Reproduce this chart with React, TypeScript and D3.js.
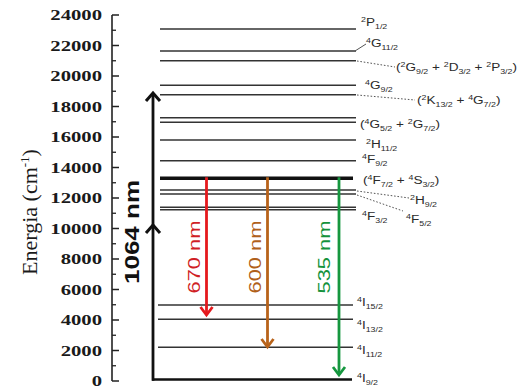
import React from "react";
import * as d3 from "d3";

// Energy levels (cm^-1) and their term labels
const levelNames = [
  "4I9/2", "4I11/2", "4I13/2", "4I15/2",
  "4F3/2a", "4F3/2", "4F5/2", "2H9/2", "4F7/2+4S3/2", "4F9/2", "2H11/2",
  "4G5/2+2G7/2a", "4G5/2+2G7/2", "2K13/2+4G7/2", "4G9/2",
  "2G9/2+2D3/2+2P3/2", "4G11/2", "2P1/2",
];
const levelEnergies = [
  0, 2210, 4046, 4984,
  11226, 11390, 12262, 12525, 13292, 14446, 15803,
  16964, 17266, 18774, 19390,
  21003, 21639, 23082,
];

// Term labels written as "^n" superscript, "_a/b" subscript
const labelTexts = [
  "^4I_9/2", "^4I_11/2", "^4I_13/2", "^4I_15/2",
  "^4F_3/2", "^4F_5/2", "^2H_9/2", "(^4F_7/2 + ^4S_3/2)", "^4F_9/2", "^2H_11/2",
  "(^4G_5/2 + ^2G_7/2)", "(^2K_13/2 + ^4G_7/2)", "^4G_9/2",
  "(^2G_9/2 + ^2D_3/2 + ^2P_3/2)", "^4G_11/2", "^2P_1/2",
];

// Pump (1064 nm) arrow heads and emission transitions
const pumpLabel = "1064 nm";
const pumpTips = [10230, 18880];
const emissionLabels = ["670 nm", "600 nm", "535 nm"];
const emissionFrom = [13292, 13292, 13292];
const emissionTo = [4328, 2230, 393];

const yTicks = d3.range(0, 24001, 2000);
const yMinorTicks = d3.range(1000, 24000, 2000);

// Layout for the right-hand labels: x, baseline y and optional leader line
const labelLayout: Record<string, { x: number; y: number; leader?: [number, number, number, number, string] }> = {
  "^4I_9/2": { x: 357, y: 382 },
  "^4I_11/2": { x: 357, y: 354 },
  "^4I_13/2": { x: 357, y: 329 },
  "^4I_15/2": { x: 357, y: 306 },
  "^4F_3/2": { x: 362, y: 220 },
  "^4F_5/2": { x: 406, y: 223, leader: [357, 195, 403, 211, "dot"] },
  "^2H_9/2": { x: 410, y: 204, leader: [357, 191, 409, 198, "dot"] },
  "(^4F_7/2 + ^4S_3/2)": { x: 363, y: 184 },
  "^4F_9/2": { x: 362, y: 163 },
  "^2H_11/2": { x: 366, y: 148 },
  "(^4G_5/2 + ^2G_7/2)": { x: 360, y: 128 },
  "(^2K_13/2 + ^4G_7/2)": { x: 417, y: 104, leader: [357, 95, 415, 100, "dot"] },
  "^4G_9/2": { x: 365, y: 89 },
  "(^2G_9/2 + ^2D_3/2 + ^2P_3/2)": { x: 396, y: 71, leader: [357, 61, 395, 67, "dot"] },
  "^4G_11/2": { x: 366, y: 47, leader: [355, 51, 366, 44, "solid"] },
  "^2P_1/2": { x: 361, y: 26 },
};

const emissionColors = ["#e5191d", "#b8631a", "#16973f"];
const emissionTextColors = ["#d01f26", "#b0601a", "#14923c"];
const emissionX = [206.5, 267.5, 339];
const emissionTextX = [200, 261, 330];

const y = d3.scaleLinear().domain([0, 24000]).range([381, 15]);

function Term({ text, x, yb }: { text: string; x: number; yb: number }) {
  const parts = text.split(/(\^\d|_\d+\/\d+)/).filter((p) => p.length > 0);
  const spans: React.ReactNode[] = [];
  let shift = 0;
  parts.forEach((p, i) => {
    if (p.startsWith("^")) {
      spans.push(
        <tspan key={i} dy={-4.5 - shift} fontSize={7.5}>{p.slice(1)}</tspan>
      );
      shift = -4.5;
    } else if (p.startsWith("_")) {
      spans.push(
        <tspan key={i} dy={3 - shift} fontSize={7.5}>{p.slice(1)}</tspan>
      );
      shift = 3;
    } else {
      spans.push(
        <tspan key={i} dy={-shift} fontSize={11.5}>{p}</tspan>
      );
      shift = 0;
    }
  });
  return (
    <text
      transform={`translate(${x},${yb}) scale(1.18,1)`}
      fontFamily="Liberation Sans, Arial, sans-serif"
      fill="#2a2a2a"
    >
      {spans}
    </text>
  );
}

function ArrowHead({ x, tip, dir, color, w, h, sw }: { x: number; tip: number; dir: 1 | -1; color: string; w: number; h: number; sw: number }) {
  // dir = -1 points up, 1 points down
  const back = tip - dir * h;
  return (
    <path
      d={`M${x - w},${back} L${x},${tip} L${x + w},${back}`}
      fill="none"
      stroke={color}
      strokeWidth={sw}
      strokeLinejoin="miter"
    />
  );
}

export default function App() {
  const axisX = 112;
  return (
    <svg
      width={518}
      height={390}
      style={{ position: "absolute", left: 0, top: 0, background: "#fff" }}
    >
      {/* y axis */}
      <line x1={axisX} x2={axisX} y1={y(24000)} y2={y(0)} stroke="#222" strokeWidth={1.6} />
      {yTicks.map((t) => (
        <g key={t}>
          <line x1={axisX} x2={axisX + 7} y1={y(t)} y2={y(t)} stroke="#222" strokeWidth={1.5} />
          <text
            transform={`translate(102,${y(t) + 5}) scale(1.38,1)`}
            textAnchor="end"
            fontFamily="Liberation Serif, Times New Roman, serif"
            fontWeight="bold"
            fontSize={15}
            fill="#1a1a1a"
          >
            {t}
          </text>
        </g>
      ))}
      {yMinorTicks.map((t) => (
        <line key={t} x1={axisX} x2={axisX + 4} y1={y(t)} y2={y(t)} stroke="#222" strokeWidth={1.3} />
      ))}

      {/* axis title */}
      <text
        transform={`translate(37,212) rotate(-90)`}
        textAnchor="middle"
        fontFamily="Liberation Serif, Times New Roman, serif"
        fontSize={22}
        fill="#1a1a1a"
      >
        Energia (cm<tspan dy={-8} fontSize={13}>-1</tspan><tspan dy={8}>)</tspan>
      </text>

      {/* energy levels */}
      {levelEnergies.map((e, i) => {
        const name = levelNames[i];
        const thick = name === "4F7/2+4S3/2";
        const ground = e === 0;
        const x1 = ground ? 152 : e < 6000 ? 158 : 160;
        const x2 = ground ? 352 : e < 6000 ? 353 : thick ? 353 : 356;
        return (
          <line
            key={name}
            x1={x1}
            x2={x2}
            y1={ground ? y(e) - 1.5 : y(e)}
            y2={ground ? y(e) - 1.5 : y(e)}
            stroke={thick || ground ? "#111" : "#333"}
            strokeWidth={thick ? 3.5 : ground ? 2.6 : 1.5}
          />
        );
      })}

      {/* pump arrow */}
      <line x1={153} x2={153} y1={y(0) - 0.3} y2={y(pumpTips[1]) + 1} stroke="#111" strokeWidth={2.8} />
      {pumpTips.map((e) => (
        <ArrowHead key={e} x={153} tip={y(e)} dir={-1} color="#111" w={7} h={8} sw={3} />
      ))}
      <text
        transform={`translate(138.5,232) rotate(-90)`}
        textAnchor="middle"
        fontFamily="Liberation Sans, Arial, sans-serif"
        fontWeight="bold"
        fontSize={21}
        textLength={104}
        lengthAdjust="spacingAndGlyphs"
        fill="#111"
      >
        {pumpLabel}
      </text>

      {/* emission arrows */}
      {emissionLabels.map((lab, i) => {
        const top = y(emissionFrom[i]);
        const tip = y(emissionTo[i]);
        return (
          <g key={lab}>
            <line x1={emissionX[i]} x2={emissionX[i]} y1={top - 1} y2={tip - 1} stroke={emissionColors[i]} strokeWidth={2.8} />
            <ArrowHead x={emissionX[i]} tip={tip} dir={1} color={emissionColors[i]} w={6} h={8} sw={2.8} />
            <text
              transform={`translate(${emissionTextX[i]},257) rotate(-90)`}
              textAnchor="middle"
              fontFamily="Liberation Sans, Arial, sans-serif"
              fontSize={16.5}
              textLength={73}
              lengthAdjust="spacingAndGlyphs"
              fill={emissionTextColors[i]}
            >
              {lab}
            </text>
          </g>
        );
      })}

      {/* term labels with leaders */}
      {labelTexts.map((t) => {
        const l = labelLayout[t];
        return (
          <g key={t}>
            {l.leader && (
              <line
                x1={l.leader[0]}
                y1={l.leader[1]}
                x2={l.leader[2]}
                y2={l.leader[3]}
                stroke="#555"
                strokeWidth={1}
                strokeDasharray={l.leader[4] === "dot" ? "1.6,1.8" : undefined}
              />
            )}
            <Term text={t} x={l.x} yb={l.y} />
          </g>
        );
      })}
    </svg>
  );
}
